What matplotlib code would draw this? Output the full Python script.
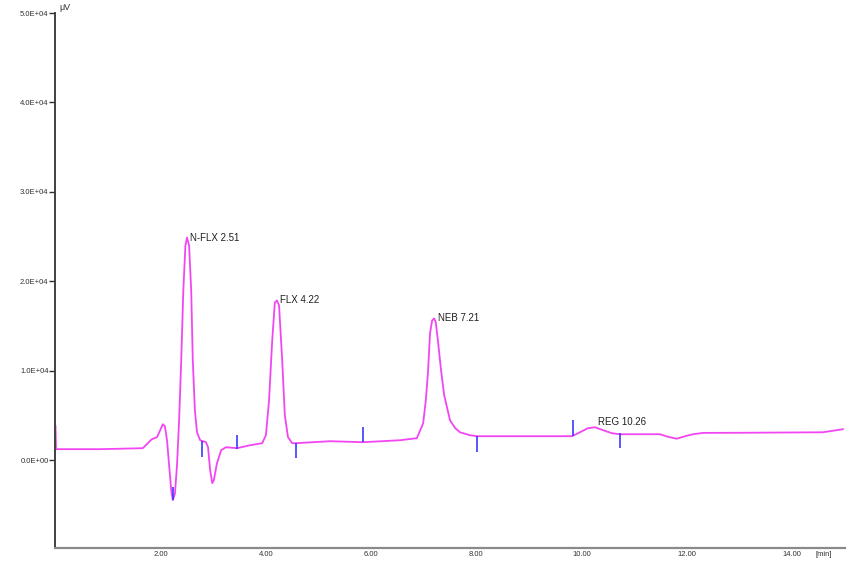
"""
Chromatogram of N-FLX / FLX / NEB / REG run, redrawn from the detector trace.
"""

import matplotlib
matplotlib.use("Agg")
import matplotlib.pyplot as plt
from matplotlib.ticker import FixedLocator, FuncFormatter
import matplotlib.transforms as mtransforms

# detector trace (time in min, signal in uV)
time_min = [
    0.00, 0.01, 0.85, 1.66, 1.83, 1.93, 1.99, 2.04, 2.08, 2.12, 2.16, 2.20,
    2.23, 2.27, 2.31, 2.35, 2.39, 2.43, 2.47, 2.50, 2.54, 2.58, 2.61, 2.65,
    2.69, 2.75, 2.86, 2.90, 2.94, 2.98, 3.01, 3.07, 3.15, 3.24, 3.45, 3.70,
    3.93, 4.00, 4.06, 4.12, 4.17, 4.21, 4.25, 4.31, 4.36, 4.42, 4.50, 4.57,
    5.22, 5.85, 6.55, 6.87, 6.99, 7.04, 7.08, 7.12, 7.16, 7.20, 7.23, 7.27,
    7.33, 7.39, 7.50, 7.60, 7.69, 7.88, 8.01, 9.82, 9.97, 10.12, 10.26, 10.41,
    10.58, 10.73, 11.49, 11.64, 11.81, 11.97, 12.12, 12.31, 13.20, 14.59, 14.97,
]
signal_uv = [
    3800, 1230, 1230, 1340, 2340, 2570, 3350, 4020, 3800, 2230, -560, -3350,
    -4460, -3790, -560, 4460, 11160, 18970, 23990, 24890, 23990, 18970, 11160, 5580,
    3120, 2230, 2010, 1450, -1120, -2570, -2230, -330, 1120, 1450, 1340, 1670,
    1900, 2790, 6700, 13390, 17630, 17860, 17300, 11160, 5020, 2570, 1900, 1900,
    2120, 2010, 2230, 2460, 4130, 6700, 9710, 14170, 15620, 15850, 15400, 13390,
    10040, 7250, 4460, 3570, 3120, 2790, 2680, 2680, 3120, 3570, 3680, 3350,
    3010, 2900, 2900, 2620, 2400, 2680, 2900, 3050, 3070, 3120, 3460,
]

# integration start/end markers
marker_t = [2.24, 2.79, 3.45, 4.57, 5.85, 8.01, 9.84, 10.73]
marker_lo = [-4460, 330, 1230, 220, 2010, 890, 2680, 1340]
marker_hi = [-3010, 2120, 2790, 1900, 3680, 2680, 4460, 3010]

# identified peaks
peak_names = ["N-FLX", "FLX", "NEB", "REG"]
peak_rt = [2.51, 4.22, 7.21, 10.26]
peak_height = [24890, 17860, 15850, 3680]

x_ticks = [2, 4, 6, 8, 10, 12, 14]
y_ticks = [0, 10000, 20000, 30000, 40000, 50000]
y_tick_labels = ["0.0E+00", "1.0E+04", "2.0E+04", "3.0E+04", "4.0E+04", "5.0E+04"]

LINE_COLOR = "#f346f3"
MARK_COLOR = "#3a3aff"

plt.rcParams["font.family"] = ["Liberation Sans", "DejaVu Sans"]

fig = plt.figure(figsize=(8.64, 5.73), dpi=100)
ax = fig.add_axes([55.5 / 864, 25 / 573, 789 / 864, 535 / 573])

ax.plot(time_min, signal_uv, color=LINE_COLOR, linewidth=1.3, solid_joinstyle="round")
ax.vlines(marker_t, marker_lo, marker_hi, color=MARK_COLOR, linewidth=1.2)

for name, rt, h in zip(peak_names, peak_rt, peak_height):
    dy = 4 if name == "REG" else 0
    ax.annotate(f"{name} {rt:.2f}", xy=(rt, h), xytext=(2, dy),
                textcoords="offset points", fontsize=7, va="center",
                ha="left", color="#202020")

ax.set_xlim(0, 15)
ax.set_ylim(-9820, 50000)

ax.xaxis.set_major_locator(FixedLocator(x_ticks))
ax.xaxis.set_major_formatter(FuncFormatter(lambda v, p: f"{v:.2f}"))
ax.yaxis.set_major_locator(FixedLocator(y_ticks))
ax.set_yticklabels(y_tick_labels)

ax.tick_params(axis="x", length=0, pad=2, labelsize=5.5, labelcolor="#303030")
ax.tick_params(axis="y", length=4, width=1, pad=1, labelsize=5.5,
               labelcolor="#303030", color="#303030")

for side in ("top", "right"):
    ax.spines[side].set_visible(False)
ax.spines["left"].set_color("#404040")
ax.spines["left"].set_linewidth(1.4)
ax.spines["bottom"].set_color("#8a8a8a")
ax.spines["bottom"].set_linewidth(1.6)

# unit labels
ax.annotate("\u03bcV", xy=(0, 1), xycoords="axes fraction", xytext=(3, 4),
            textcoords="offset points", fontsize=6.5, va="center", ha="left",
            color="#303030")
trans = mtransforms.blended_transform_factory(ax.transData, ax.transAxes)
ax.annotate("[min]", xy=(14.6, 0), xycoords=trans, xytext=(0, -5),
            textcoords="offset points", fontsize=5.5, va="center", ha="center",
            color="#303030")

fig.savefig("out.png", dpi=100)
